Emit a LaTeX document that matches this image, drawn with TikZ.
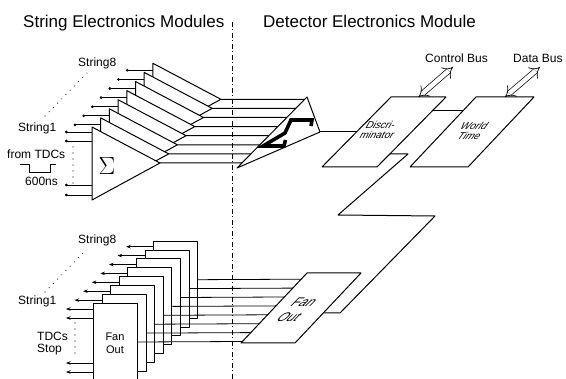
\documentclass[tikz,border=0pt]{standalone}
\usepackage{fontspec}
\setmainfont{Liberation Sans}
\usetikzlibrary{calc,arrows.meta}
\begin{document}
\begin{tikzpicture}[x=1pt,y=-1pt,line join=round,
  edge/.style={line width=1pt},
  sig/.style={line width=0.8pt},
  inarrow/.style={sig,-{Circle[length=2.6pt]}},
  outarrow/.style={sig,-{Stealth[length=4.5pt,width=3.5pt]}},
  dots/.style={line width=1.1pt,line cap=round,dash pattern=on 0pt off 6pt},
  title/.style={font=\fontsize{17}{17}\selectfont,inner sep=0pt,anchor=base west},
  lbl/.style={font=\fontsize{12}{12}\selectfont,inner sep=0pt,anchor=base west},
  boxtxt/.style={font=\fontsize{10}{10}\selectfont\itshape,inner sep=0pt,align=center},
  sigma/.style={line width=3.6pt,line join=miter,line cap=butt},
  bus/.style={line width=0.7pt,double,double distance=4.5pt,{Implies}-{Implies}}]
\useasboundingbox (0,0) rectangle (566,379);

% titles
\node[title] (t1) at (23,27.5) {String Electronics Modules};
\node[title] (t2) at (263,27.5) {Detector Electronics Module};
\draw[line width=0.9pt,dash pattern=on 5pt off 2.5pt on 1pt off 2.5pt] (232,22) -- (232,379);

% ---------- summing amplifiers (String Electronics, top) ----------
\foreach \k in {7,6,...,0} {
  \pgfmathsetmacro\xx{92+8.7*\k}
  \pgfmathsetmacro\yy{127-9.1*\k}
  \coordinate (s\k) at (\xx,\yy);
  \coordinate (a\k) at (\xx+68,\yy+36);
  \filldraw[edge,fill=white] (s\k) -- ++(0,73) -- (a\k) -- cycle;
}
\node[font=\fontsize{44}{44}\selectfont,inner sep=0pt] (sig0) at (107,166) {$\Sigma$};
\foreach \k in {1,...,7} \draw[inarrow] ($(s\k)+(0,7)$) -- ++(-27,0);
\foreach \d in {5,14,58,68} \draw[inarrow] ($(s0)+(0,\d)$) -- ++(-27,0);

% central adder
\coordinate (ct) at (307,97);
\coordinate (cr) at (320,132);
\coordinate (cb) at (237,168);
\foreach \k in {0,...,7} \draw[edge] (a\k) -- ($(cb)!{(5+9.1*\k)/71}!(ct)$);
\filldraw[edge,fill=white] (ct) -- (cr) -- (cb) -- cycle;
% slanted sigma drawn in perspective
\coordinate (sgtr) at (312,120);
\coordinate (sgtl) at (291,120);
\coordinate (sgm) at (285,133);
\coordinate (sgbl) at (263,146);
\coordinate (sgbr) at (284,146);
\draw[sigma] ($(sgtr)+(-1,6)$) -- (sgtr) -- (sgtl) -- (sgm) -- (sgbl) -- (sgbr) -- ++(1.5,-6);

\node[lbl] (l8a) at (78,66.5) {String8};
\node[lbl] (l1a) at (18,131.5) {String1};
\node[lbl] (ltdc) at (7,159) {from TDCs};
\node[lbl] (l600) at (25,186) {600ns};
\draw[sig] (20,164) -- (29,164) -- (29,172) -- (50,172) -- (50,164) -- (56,164);
\draw[dots] (45,116) -- (88,72);
\draw[dots] (73,147) -- (73,184);

% ---------- Detector Electronics ----------
\coordinate (dtl) at (391,97);
\coordinate (dtr) at (446,97);
\coordinate (dbr) at (377,167);
\coordinate (dbl) at (322,167);
\draw[edge] (dtl) -- (dtr) -- (dbr) -- (dbl) -- cycle;
\node[boxtxt,xslant=0.35] (disc) at (379,130) {Discri-\\minator};

\coordinate (wtl) at (476,97);
\coordinate (wtr) at (534,97);
\coordinate (wbr) at (468,167);
\coordinate (wbl) at (410,167);
\draw[edge] (wtl) -- (wtr) -- (wbr) -- (wbl) -- cycle;
\node[boxtxt,xslant=0.5] (wt) at (472,131) {World\\Time};

\coordinate (ftl) at (307,273);
\coordinate (ftr) at (361,273);
\coordinate (fbr) at (295,343);
\coordinate (fbl) at (241,343);
\draw[edge] (ftl) -- (ftr) -- (fbr) -- (fbl) -- cycle;
\node[boxtxt,font=\fontsize{12.5}{15}\selectfont,xslant=1] (fo) at (297,310) {Fan\\Out};

\draw[edge] (cr) -- ($(dtl)!0.5!(dbl)$);
\draw[edge] ($(dtr)!0.2!(dbr)$) -- ($(wtl)!0.2!(wbl)$);
\coordinate (z1) at (408,154);
\coordinate (z2) at (338,215);
\coordinate (z3) at (435,216);
\coordinate (z4) at (340,313);
\draw[edge] ($(dtr)!{57/70}!(dbr)$) -- (z1) -- (z2) -- (z3) -- (z4) -- ($(ftr)!{40/70}!(fbr)$);

\draw[bus] ($(dtl)!0.5!(dtr)$) -- (453,67);
\draw[bus] ($(wtl)!0.5!(wtr)$) -- (540,67);
\node[lbl] (cbus) at (425,63) {Control Bus};
\node[lbl] (dbus) at (513,63) {Data Bus};

% ---------- fan-out modules (String Electronics, bottom) ----------
\foreach \k in {7,6,...,0} {
  \node[edge,draw,fill=white,minimum width=44pt,minimum height=77pt,inner sep=0pt,anchor=north west]
    (f\k) at ({93+8.6*\k},{303-8.9*\k}) {};
}
\node[font=\fontsize{11}{13}\selectfont,align=center,inner sep=0pt] (fotxt) at (115,343) {Fan\\Out};
\foreach \k in {0,...,7} \draw[sig] (f\k.east) -- ($(ftl)!{(68.5-8.9*\k)/70}!(fbl)$);
\foreach \k in {1,...,7} \draw[outarrow] ($(f\k.north west)+(0,6)$) -- ++(-27,0);
\foreach \d in {6,15,60,69} \draw[outarrow] ($(f0.north west)+(0,\d)$) -- ++(-27,0);

\node[lbl] (l8b) at (78,244) {String8};
\node[lbl] (l1b) at (18,305) {String1};
\node[lbl] (ltd) at (37,341) {TDCs};
\node[lbl] (lst) at (37,353) {Stop};
\draw[dots] (45,292) -- (84,252);
\draw[dots] (75,323) -- (75,358);
\end{tikzpicture}
\end{document}
